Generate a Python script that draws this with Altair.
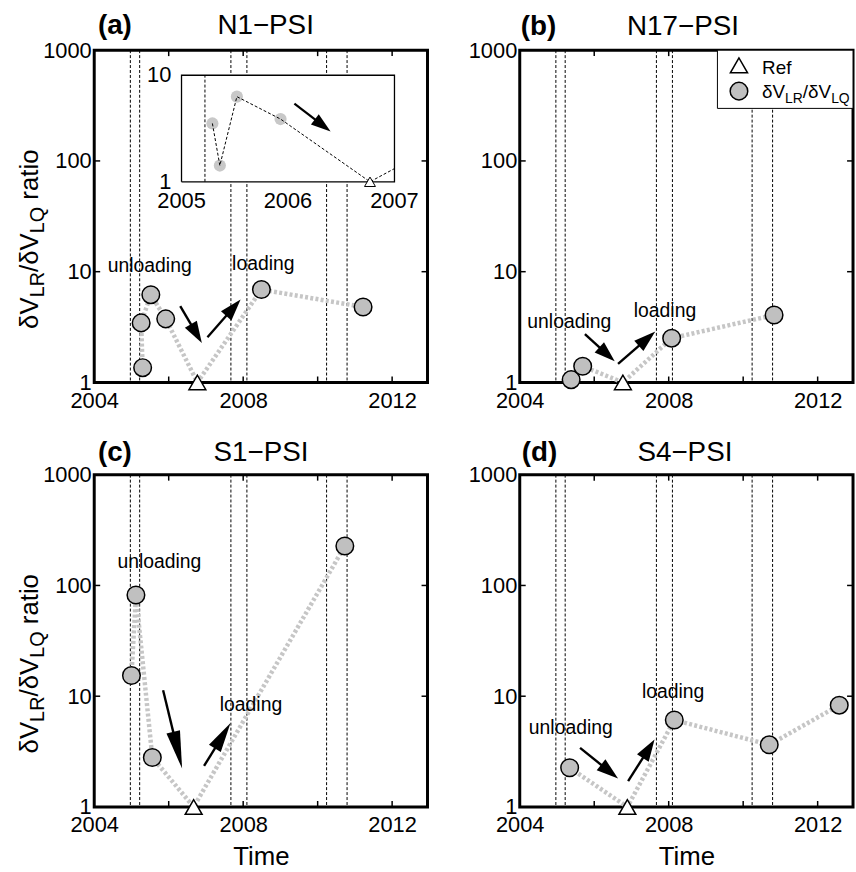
import math
import altair as alt
import pandas as pd

FONT = "Liberation Sans"
W, H = 336, 335
X_MIN, X_MAX = 2004.0, 2012.95
FILL_GRAY = "#c0c0c0"
LINE_GRAY = "#c6c6c6"

# ---------------- data ----------------
event_years = [2004.97, 2005.22, 2007.67, 2008.10, 2010.24, 2010.79]
x_tick_years = [2004, 2006, 2008, 2010, 2012]
x_label_years = [2004, 2008, 2012]
y_tick_values = [1, 10, 100, 1000]

# panel (a) N1-PSI (listed in the order the line connects them)
a_years = [2005.30, 2005.26, 2005.52, 2005.92, 2006.77, 2008.49, 2011.22]
a_ratio = [1.36, 3.45, 6.2, 3.75, 1.0, 6.9, 4.8]
a_ref = 4
# panel (b) N17-PSI
b_years = [2005.38, 2005.69, 2006.77, 2008.08, 2010.83]
b_ratio = [1.06, 1.40, 1.0, 2.51, 4.06]
b_ref = 2
# panel (c) S1-PSI
c_years = [2005.00, 2005.12, 2005.56, 2006.67, 2010.73]
c_ratio = [15.4, 82.0, 2.8, 1.0, 227.0]
c_ref = 3
# panel (d) S4-PSI
d_years = [2005.34, 2006.89, 2008.15, 2010.70, 2012.58]
d_ratio = [2.26, 1.0, 6.1, 3.64, 8.3]
d_ref = 1

# inset of panel (a): 2005-2007, ratio 1-10
inset_years = [2005.29, 2005.36, 2005.52, 2005.93, 2006.77, 2007.0]
inset_ratio = [3.53, 1.42, 6.3, 3.88, 1.0, 1.33]
inset_ref = 4
inset_event = [2005.22]
inset_x_labels = [2005, 2006, 2007]
inset_y_labels = [1, 10]
inset_box_x = [2005, 2007, 2007, 2005, 2005]
inset_box_y = [1, 1, 10, 10, 1]

# annotations: (x1, v1, x2, v2, head length, head width)
a_arrows = [(2006.31, 4.89, 2006.89, 2.27, 22, 14), (2007.04, 2.56, 2007.93, 5.62, 22, 14)]
b_arrows = [(2005.75, 2.73, 2006.55, 1.55, 21, 14), (2006.64, 1.47, 2007.64, 2.88, 22, 14)]
c_arrows = [(2005.85, 11.3, 2006.36, 2.22, 38, 14), (2006.95, 2.35, 2007.66, 5.72, 30, 14)]
d_arrows = [(2005.62, 3.42, 2006.64, 1.81, 22, 14), (2006.91, 1.71, 2007.62, 4.06, 22, 14)]
inset_arrows = [(2006.06, 5.41, 2006.40, 2.97, 20, 13)]

# text labels: (text, x, v)
a_labels = [("unloading", 2005.49, 9.92), ("loading", 2008.54, 10.4)]
b_labels = [("unloading", 2005.33, 3.09), ("loading", 2007.90, 3.92)]
c_labels = [("unloading", 2005.75, 143.8), ("loading", 2008.21, 7.35)]
d_labels = [("unloading", 2005.37, 4.56), ("loading", 2008.12, 9.68)]

names = ["N1\u2212PSI", "N17\u2212PSI", "S1\u2212PSI", "S4\u2212PSI"]
letters = ["(a)", "(b)", "(c)", "(d)"]

# ---------------- scales helpers ----------------
IX_RANGE = [88.0, 302.7]
IY_RANGE = [132.7, 25.3]


def main_px(x):
    return (x - X_MIN) / (X_MAX - X_MIN) * W


def main_py(v):
    return H * (1 - math.log10(v) / 3.0)


def inset_px(x):
    return IX_RANGE[0] + (x - 2005.0) / 2.0 * (IX_RANGE[1] - IX_RANGE[0])


def inset_py(v):
    return IY_RANGE[0] + math.log10(v) * (IY_RANGE[1] - IY_RANGE[0])


def make_enc(xscale, yscale, xaxis, yaxis):
    def xe(f):
        return alt.X(f"{f}:Q", scale=xscale, axis=xaxis)

    def ye(f):
        return alt.Y(f"{f}:Q", scale=yscale, axis=yaxis)
    return xe, ye


def arrow_layers(arrows, xe, ye, fpx, fpy, width=2.4):
    layers = []
    for (x1, v1, x2, v2, L, Wd) in arrows:
        p1 = (fpx(x1), fpy(v1))
        p2 = (fpx(x2), fpy(v2))
        dx, dy = p2[0] - p1[0], p2[1] - p1[1]
        ln = math.hypot(dx, dy)
        theta = math.degrees(math.atan2(dx, -dy)) % 360
        f = max(0.0, 1 - 0.6 * L / ln)
        xs_end = x1 + f * (x2 - x1)
        vs_end = 10 ** (math.log10(v1) + f * (math.log10(v2) - math.log10(v1)))
        shaft = pd.DataFrame({"x": [x1], "y": [v1], "xe": [xs_end], "ye": [vs_end]})
        layers.append(
            alt.Chart(shaft).mark_rule(color="black", strokeWidth=width).encode(
                x=xe("x"), x2="xe:Q", y=ye("y"), y2="ye:Q"))
        hw = Wd / L
        path = f"M0,0L{hw:.3f},2L{-hw:.3f},2Z"
        head = pd.DataFrame({"x": [x2], "y": [v2]})
        layers.append(
            alt.Chart(head).mark_point(shape=path, size=L * L, angle=theta, filled=True,
                                       color="black", opacity=1, strokeWidth=0).encode(
                x=xe("x"), y=ye("y")))
    return layers


def text_layer(txt, x, y, size, weight="normal", align="left", baseline="alphabetic", angle=None):
    kw = dict(font=FONT, fontSize=size, fontWeight=weight, align=align,
              baseline=baseline, color="black")
    if angle is not None:
        kw["angle"] = angle
    return alt.Chart(pd.DataFrame({"t": [txt]})).mark_text(**kw).encode(
        x=alt.value(x), y=alt.value(y), text="t:N")


def ytitle_layers():
    # rotated composite title  dV_LR/dV_LQ ratio
    F, f = 26, 20
    xb, xs = -56.3, -50.3
    y = 281.0
    out = []
    pieces = [("\u03b4V", F, xb, 1.223), ("LR", f, xs, 1.278), ("/\u03b4V", F, xb, 1.501),
              ("LQ", f, xs, 1.334)]
    for t, s, xx, wem in pieces:
        out.append(text_layer(t, xx, y, s, angle=270))
        y -= wem * s
    y -= 0.278 * F
    out.append(text_layer("ratio", xb, y, F, angle=270))
    return out


def panel(years, ratio, ref_idx, arrows, labels, idx, show_time, show_ytitle,
          name_x, letter_x, title_base, legend=False, inset=False):
    xscale = alt.Scale(domain=[X_MIN, X_MAX], nice=False, zero=False)
    yscale = alt.Scale(type="log", domain=[1, 1000], nice=False)
    xaxis = alt.Axis(values=x_label_years, format="d", title="Time" if show_time else None,
                     labelFlush=False, labelOverlap=False)
    yaxis = alt.Axis(values=y_tick_values, format="d", title=None, labelOverlap=False)
    xe, ye = make_enc(xscale, yscale, xaxis, yaxis)

    order = list(range(len(years)))
    line_df = pd.DataFrame({"x": years, "y": ratio, "o": order})
    circ_df = line_df.drop(index=ref_idx)
    ref_df = line_df.loc[[ref_idx]]
    ev_df = pd.DataFrame({"x": event_years})
    xt_df = pd.DataFrame({"x": x_tick_years})
    yt_df = pd.DataFrame({"y": y_tick_values})

    layers = [
        alt.Chart(ev_df).mark_rule(color="black", strokeWidth=1, strokeDash=[3, 2]).encode(
            x=xe("x"), y=alt.value(0), y2=alt.value(H)),
        alt.Chart(line_df).mark_line(color=LINE_GRAY, strokeWidth=4.5, strokeDash=[3, 2.3]).encode(
            x=xe("x"), y=ye("y"), order="o:Q"),
        alt.Chart(circ_df).mark_point(shape="circle", size=314, fill=FILL_GRAY, fillOpacity=1,
                                      stroke="black", strokeWidth=1.5, opacity=1).encode(
            x=xe("x"), y=ye("y")),
        alt.Chart(ref_df).mark_point(shape="triangle-up", size=289, fill="white", fillOpacity=1,
                                     stroke="black", strokeWidth=1.5, opacity=1).encode(
            x=xe("x"), y=ye("y")),
    ]
    layers += arrow_layers(arrows, xe, ye, main_px, main_py)
    lab_df = pd.DataFrame({"t": [l[0] for l in labels], "x": [l[1] for l in labels],
                           "y": [l[2] for l in labels]})
    layers.append(alt.Chart(lab_df).mark_text(font=FONT, fontSize=19.5, align="center",
                                              baseline="alphabetic", color="black").encode(
        x=xe("x"), y=ye("y"), text="t:N"))
    # inward ticks on all four sides
    layers += [
        alt.Chart(xt_df).mark_rule(color="black", strokeWidth=1.5).encode(
            x=xe("x"), y=alt.value(H - 6), y2=alt.value(H)),
        alt.Chart(xt_df).mark_rule(color="black", strokeWidth=1.5).encode(
            x=xe("x"), y=alt.value(0), y2=alt.value(6)),
        alt.Chart(yt_df).mark_rule(color="black", strokeWidth=1.5).encode(
            y=ye("y"), x=alt.value(0), x2=alt.value(6)),
        alt.Chart(yt_df).mark_rule(color="black", strokeWidth=1.5).encode(
            y=ye("y"), x=alt.value(W - 6), x2=alt.value(W)),
    ]
    # titles
    layers.append(text_layer(letters[idx], letter_x, title_base, 28, weight="bold"))
    layers.append(text_layer(names[idx], name_x, title_base, 28, align="center"))
    if show_ytitle:
        layers += ytitle_layers()
    if legend:
        box = alt.Chart(pd.DataFrame({"k": [0]})).mark_rect(
            fill="white", stroke="black", strokeWidth=1).encode(
            x=alt.value(199.3), x2=alt.value(W), y=alt.value(0), y2=alt.value(58.7))
        tri = alt.Chart(pd.DataFrame({"k": [0]})).mark_point(
            shape="triangle-up", size=300, fill="white", fillOpacity=1, stroke="black",
            strokeWidth=1.5, opacity=1).encode(x=alt.value(221), y=alt.value(15.3))
        cir = alt.Chart(pd.DataFrame({"k": [0]})).mark_point(
            shape="circle", size=314, fill=FILL_GRAY, fillOpacity=1, stroke="black",
            strokeWidth=1.5, opacity=1).encode(x=alt.value(221), y=alt.value(41.3))
        layers += [box, tri, cir, text_layer("Ref", 244.3, 23.7, 19)]
        F, f = 19, 14
        xx = 244.3
        for t, s, yy, wem in [("\u03b4V", F, 48.7, 1.223), ("LR", f, 53.0, 1.278),
                              ("/\u03b4V", F, 48.7, 1.501), ("LQ", f, 53.0, 1.334)]:
            layers.append(text_layer(t, xx, yy, s))
            xx += wem * s

    main = alt.layer(*layers)
    if not inset:
        return main.properties(width=W, height=H)

    # ---------------- inset (own scales) ----------------
    ixs = alt.Scale(domain=[2005, 2007], range=IX_RANGE, nice=False, zero=False)
    iys = alt.Scale(type="log", domain=[1, 10], range=IY_RANGE, nice=False)
    ixe, iye = make_enc(ixs, iys, None, None)
    ins_df = pd.DataFrame({"x": inset_years, "y": inset_ratio, "o": list(range(len(inset_years)))})
    ins_circ = ins_df.iloc[:inset_ref]
    ins_tri = ins_df.iloc[[inset_ref]]
    fill_df = pd.DataFrame({"x": [2005, 2007], "y": [10, 10], "y2": [1, 1]})
    box_df = pd.DataFrame({"x": inset_box_x, "y": inset_box_y, "o": list(range(5))})
    ilayers = [
        alt.Chart(fill_df).mark_area(color="white", opacity=1).encode(
            x=ixe("x"), y=iye("y"), y2="y2:Q"),
        alt.Chart(box_df).mark_line(color="black", strokeWidth=1.3).encode(
            x=ixe("x"), y=iye("y"), order="o:Q"),
        alt.Chart(pd.DataFrame({"x": inset_event, "y": [1], "y2": [10]})).mark_rule(
            color="black", strokeWidth=1, strokeDash=[3, 2]).encode(
            x=ixe("x"), y=iye("y"), y2="y2:Q"),
        alt.Chart(ins_circ).mark_point(shape="circle", size=150, fill="#c8c8c8", fillOpacity=1,
                                       strokeWidth=0, opacity=1).encode(x=ixe("x"), y=iye("y")),
        alt.Chart(ins_df).mark_line(color="black", strokeWidth=1, strokeDash=[3, 2]).encode(
            x=ixe("x"), y=iye("y"), order="o:Q"),
        alt.Chart(ins_tri).mark_point(shape="triangle-up", size=121, fill="white", fillOpacity=1,
                                      stroke="black", strokeWidth=1, opacity=1).encode(
            x=ixe("x"), y=iye("y")),
    ]
    ilayers += arrow_layers(inset_arrows, ixe, iye, inset_px, inset_py, width=2.2)
    ilayers.append(alt.Chart(pd.DataFrame({"x": inset_x_labels})).mark_text(
        font=FONT, fontSize=22, align="center", baseline="alphabetic", color="black").encode(
        x=ixe("x"), y=alt.value(158.7), text=alt.Text("x:Q", format="d")))
    ilayers.append(alt.Chart(pd.DataFrame({"y": inset_y_labels})).mark_text(
        font=FONT, fontSize=22, align="right", baseline="middle", color="black").encode(
        y=iye("y"), x=alt.value(77.7), text=alt.Text("y:Q", format="d")))
    ins = alt.layer(*ilayers)
    return alt.layer(main, ins).resolve_scale(x="independent", y="independent").properties(
        width=W, height=H)


pa = panel(a_years, a_ratio, a_ref, a_arrows, a_labels, 0, False, True, 172.8, 3.7, -16,
           inset=True)
pb = panel(b_years, b_ratio, b_ref, b_arrows, b_labels, 1, False, False, 164.6, 1.0, -15,
           legend=True)
pc = panel(c_years, c_ratio, c_ref, c_arrows, c_labels, 2, True, True, 168.2, 3.7, -13.7)
pd_ = panel(d_years, d_ratio, d_ref, d_arrows, d_labels, 3, True, False, 166.5, 2.0, -13.7)

SH, SV = 36, 24
row1 = alt.hconcat(pa, pb, spacing=SH).resolve_scale(x="independent", y="independent")
row2 = alt.hconcat(pc, pd_, spacing=SH).resolve_scale(x="independent", y="independent")
chart = alt.vconcat(row1, row2, spacing=SV).resolve_scale(
    x="independent", y="independent").properties(
    padding={"left": 16, "top": 7, "right": 0, "bottom": 0}
).configure_view(stroke="black", strokeWidth=3).configure_axis(
    labelFont=FONT, labelFontSize=22, labelColor="black", titleFont=FONT, titleFontSize=26,
    titleFontWeight="normal", titleColor="black", domain=False, ticks=False, tickSize=0,
    grid=False
).configure_axisX(labelPadding=8, titlePadding=8).configure_axisY(labelPadding=3)

chart.save("out.html", embed_options={"renderer": "svg", "actions": False})
